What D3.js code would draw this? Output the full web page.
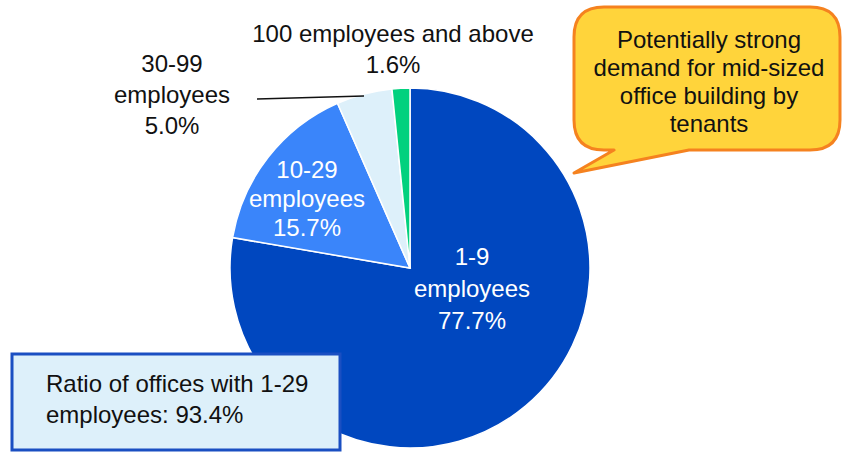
<!DOCTYPE html>
<html><head><meta charset="utf-8">
<script src="https://cdn.jsdelivr.net/npm/d3@7"></script>
<style>body{margin:0;background:#fff}svg{display:block;font-family:"Liberation Sans",Arial,sans-serif}</style>
</head><body><svg id="c" width="843" height="454"></svg>
<script>
const categories = ["1-9 employees", "10-29 employees", "30-99 employees", "100 employees and above"];
const values = [77.7, 15.7, 5.0, 1.6];
const labels = ["77.7%", "15.7%", "5.0%", "1.6%"];
const colors = ["#0047BF", "#3A85FA", "#DDF0FA", "#02D17E"];

const svg = d3.select("#c");
const cx = 410, cy = 268, R = 180;
const FS = 24;
const pie = d3.pie().sort(null).value(d => d)(values);
const arc = d3.arc().innerRadius(0).outerRadius(R);
const g = svg.append("g").attr("transform", `translate(${cx},${cy})`);
g.selectAll("path").data(pie).join("path")
  .attr("d", arc).attr("fill", (d, i) => colors[i])
  .attr("stroke", "#fff").attr("stroke-width", 1.5);

function lines(x, y, arr, color, lh) {
  const t = svg.append("text").attr("text-anchor", "middle").attr("font-size", FS).attr("fill", color);
  arr.forEach((s, i) => t.append("tspan").attr("x", x).attr("y", y + i * lh).text(s));
}
lines(472, 265, ["1-9", "employees", labels[0]], "#fff", 32);
lines(307, 178, ["10-29", "employees", labels[1]], "#fff", 29);
lines(172, 72, ["30-99", "employees", labels[2]], "#111", 31);
lines(393, 42, ["100 employees and above", labels[3]], "#111", 31);

// leader line for 30-99
svg.append("line").attr("x1", 257).attr("y1", 99)
  .attr("x2", 364).attr("y2", 96).attr("stroke", "#111").attr("stroke-width", 1.5);

// callout bubble
const L = 574, T = 7, Rr = 840, B = 150, cr = 30;
const bubble = `M${L+cr},${T} H${Rr-cr} Q${Rr},${T} ${Rr},${T+cr} V${B-cr} Q${Rr},${B} ${Rr-cr},${B} H689 L574,173 L614,${B} H${L+cr} Q${L},${B} ${L},${B-cr} V${T+cr} Q${L},${T} ${L+cr},${T} Z`;
svg.append("path").attr("d", bubble).attr("fill", "#FFD43B").attr("stroke", "#F5821F").attr("stroke-width", 3).attr("stroke-linejoin", "round");
lines(709, 48, ["Potentially strong", "demand for mid-sized", "office building by", "tenants"], "#111", 28);

// info box
svg.append("rect").attr("x", 12).attr("y", 354).attr("width", 328).attr("height", 96)
  .attr("fill", "#DDF0FA").attr("stroke", "#1A4FC2").attr("stroke-width", 3);
const t2 = svg.append("text").attr("font-size", FS).attr("fill", "#111");
["Ratio of offices with 1-29", "employees: 93.4%"].forEach((s, i) =>
  t2.append("tspan").attr("x", 46).attr("y", 392 + i * 31).text(s));
</script></body></html>
